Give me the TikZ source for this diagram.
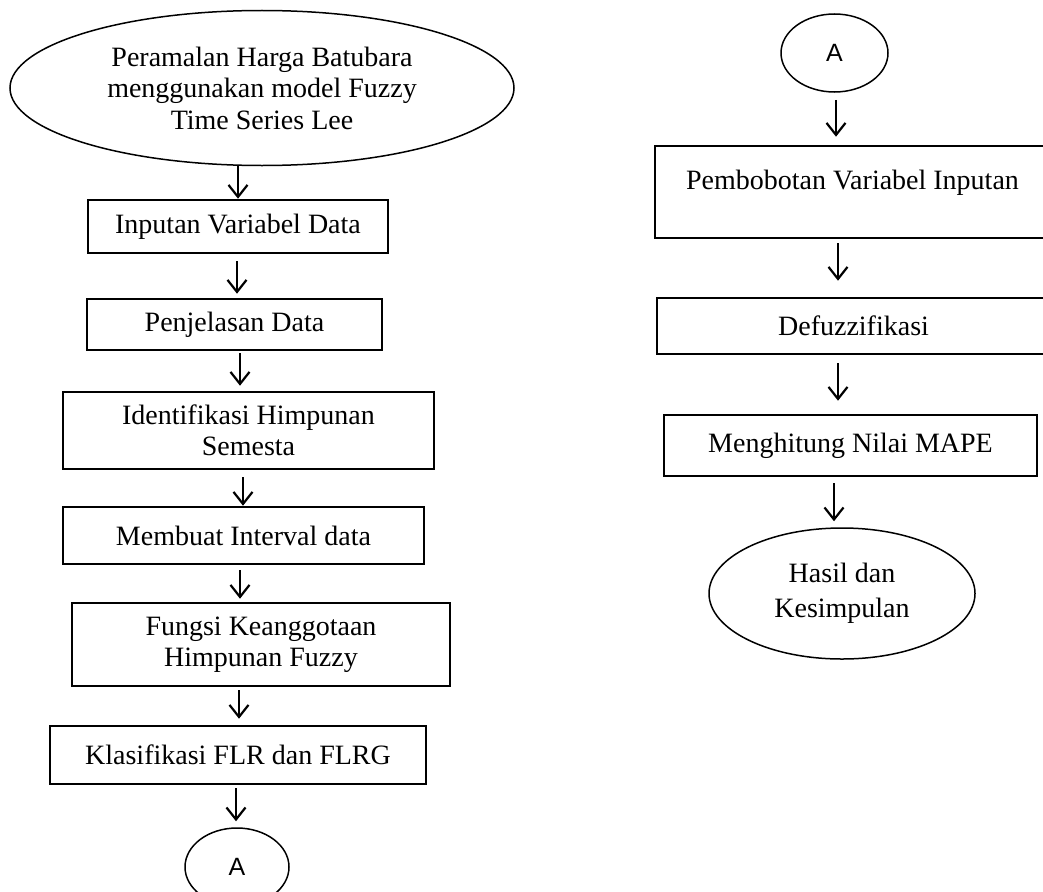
\documentclass[tikz,border=0pt]{standalone}
\usepackage{fontspec}
\setmainfont{Liberation Serif}
\newfontfamily\afont{Liberation Sans}
\usetikzlibrary{arrows.meta,shapes.geometric}
\tikzset{
  stepbox/.style={draw=black, line width=2.6pt, rectangle, inner sep=0pt, align=center,
    font=\fontsize{28}{31.5}\selectfont},
  oval/.style={draw=black, line width=1.5pt, ellipse, inner sep=0pt, align=center,
    font=\fontsize{28}{31.5}\selectfont},
  conn/.style={draw=black, line width=1.5pt, ellipse, inner sep=0pt,
    font=\afont\fontsize{25}{28}\selectfont},
  arr/.style={line width=2.2pt, -{Straight Barb[length=12pt,width=19pt,line width=2.2pt]}}
}
\begin{document}
\begin{tikzpicture}[x=1pt,y=-1pt]
\useasboundingbox (0,0) rectangle (1043,891);
\clip (0,0) rectangle (1043,891);
\fill[white] (0,0) rectangle (1043,891);
% left column
\node[oval, minimum width=504pt, minimum height=155pt] (start) at (262,88)
  {Peramalan Harga Batubara\\menggunakan model Fuzzy\\Time Series Lee};
\node[stepbox, minimum width=300pt, minimum height=53pt] (b1) at (238,226.5) {Inputan Variabel Data};
\node[stepbox, minimum width=295pt, minimum height=51pt] (b2) at (234.5,324.5) {Penjelasan Data};
\node[stepbox, minimum width=371pt, minimum height=77pt] (b3) at (248.5,430.5) {Identifikasi Himpunan\\Semesta};
\node[stepbox, minimum width=361pt, minimum height=57pt] (b4) at (243.5,535.5) {Membuat Interval data};
\node[stepbox, minimum width=378pt, minimum height=83pt] (b5) at (261,644.5) {Fungsi Keanggotaan\\Himpunan Fuzzy};
\node[stepbox, minimum width=376pt, minimum height=58pt] (b6) at (238,755) {Klasifikasi FLR dan FLRG};
\node[conn, minimum width=104pt, minimum height=78pt] (A1) at (237,867) {A};
% right column
\node[conn, minimum width=107pt, minimum height=78pt] (A2) at (834.5,53) {A};
\node[stepbox, minimum width=395pt, minimum height=92pt, text depth=24pt] (r1) at (852.5,192) {Pembobotan Variabel Inputan};
\node[stepbox, minimum width=393pt, minimum height=56pt] (r2) at (853.5,326) {Defuzzifikasi};
\node[stepbox, minimum width=373pt, minimum height=61pt] (r3) at (850.5,445.5) {Menghitung Nilai MAPE};
\node[oval, minimum width=266pt, minimum height=131pt, font=\fontsize{28}{35}\selectfont] (end) at (842,593.5) {Hasil dan\\Kesimpulan};
% connectors left
\draw[arr] (b1.north |- start.south) -- (b1.north);
\draw[arr] ([xshift=-1pt,yshift=-7pt]b1.south) coordinate (p2) -- ([yshift=4pt]p2 |- b2.north);
\draw[arr] ([xshift=5.5pt,yshift=-2pt]b2.south) coordinate (p3) -- ([yshift=5pt]p3 |- b3.north);
\draw[arr] ([xshift=-5.5pt,yshift=-7pt]b3.south) coordinate (p4) -- (p4 |- b4.north);
\draw[arr] ([xshift=-3.5pt,yshift=-5pt]b4.south) coordinate (p5) -- ([yshift=3pt]p5 |- b5.north);
\draw[arr] ([xshift=-22pt,yshift=-3pt]b5.south) coordinate (p6) -- ([yshift=6pt]p6 |- b6.north);
\draw[arr] ([xshift=-2pt,yshift=-3pt]b6.south) coordinate (p7) -- ([yshift=6pt]p7 |- A1.north);
% connectors right
\draw[arr] ([xshift=1.5pt,yshift=-7pt]A2.south) coordinate (q1) -- ([yshift=8pt]q1 |- r1.north);
\draw[arr] ([xshift=-14.5pt,yshift=-4pt]r1.south) coordinate (q2) -- ([yshift=16pt]q2 |- r2.north);
\draw[arr] ([xshift=-15.5pt,yshift=-8pt]r2.south) coordinate (q3) -- ([yshift=13pt]q3 |- r3.north);
\draw[arr] ([xshift=-16.5pt,yshift=-6pt]r3.south) coordinate (q4) -- ([yshift=6pt]q4 |- end.north);
\end{tikzpicture}
\end{document}
